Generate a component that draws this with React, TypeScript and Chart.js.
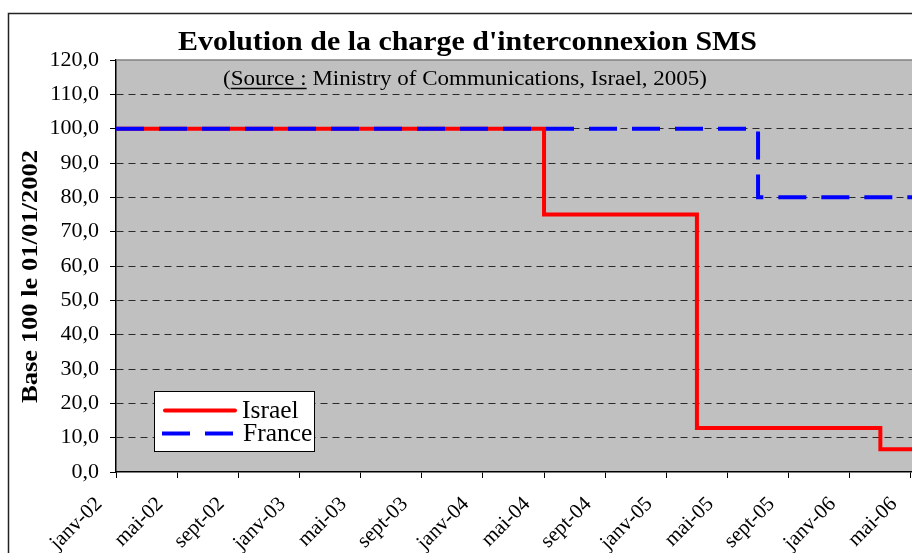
import React, { useEffect, useRef } from "react";
import { Chart, registerables } from "chart.js";

Chart.register(...registerables);

// ---- Data (months counted from janv-02 = 0) ----
const tickMonths = [0, 4, 8, 12, 16, 20, 24, 28, 32, 36, 40, 44, 48, 52];
const tickLabels = [
  "janv-02", "mai-02", "sept-02", "janv-03", "mai-03", "sept-03", "janv-04",
  "mai-04", "sept-04", "janv-05", "mai-05", "sept-05", "janv-06", "mai-06",
];
const israelMonths = [0, 28, 38, 50, 54];
const israelValues = [100, 75, 12.8, 6.6, 6.6];
const franceMonths = [0, 42, 54];
const franceValues = [100, 80, 80];
const yMin = 0;
const yMax = 120;
const yStep = 10;
const xMaxMonth = 52.07;

const titleText = "Evolution de la charge d'interconnexion SMS";
const sourceOpen = "(";
const sourceWord = "Source :";
const sourceRest = " Ministry of Communications, Israel, 2005)";
const yTitleText = "Base 100 le 01/01/2002";
const seriesNames = ["Israel", "France"];

const SERIF = "'Liberation Serif', 'Times New Roman', serif";

function fitText(
  ctx: CanvasRenderingContext2D,
  text: string,
  font: string,
  left: number,
  baseline: number,
  width: number
) {
  ctx.save();
  ctx.font = font;
  const w = ctx.measureText(text).width;
  ctx.translate(left, baseline);
  ctx.scale(width / w, 1);
  ctx.textAlign = "left";
  ctx.textBaseline = "alphabetic";
  ctx.fillStyle = "#000";
  ctx.fillText(text, 0, 0);
  ctx.restore();
}

const decorPlugin = {
  id: "decor",
  beforeDraw(chart: any) {
    const { ctx, chartArea: a } = chart;
    ctx.save();
    ctx.fillStyle = "#ffffff";
    ctx.fillRect(0, 0, chart.width, chart.height);
    // outer frame
    ctx.strokeStyle = "#222";
    ctx.lineWidth = 1.5;
    ctx.strokeRect(8.5, 13.5, 2000, 2000);
    // plot background
    ctx.fillStyle = "#C0C0C0";
    ctx.fillRect(a.left, a.top, a.right - a.left, a.bottom - a.top);
    ctx.restore();
  },
  beforeDatasetsDraw(chart: any) {
    const { ctx, chartArea: a } = chart;
    ctx.save();
    ctx.strokeStyle = "#808080";
    ctx.lineWidth = 1.5;
    ctx.beginPath();
    ctx.moveTo(a.left, a.top);
    ctx.lineTo(a.right, a.top);
    ctx.stroke();
    ctx.restore();
  },
  afterDraw(chart: any) {
    const { ctx } = chart;
    const xs = chart.scales.x;

    // Title
    fitText(ctx, titleText, `bold 28px ${SERIF}`, 178, 50, 579);

    // Subtitle with underlined "Source :"
    {
      const font = `20px ${SERIF}`;
      const full = sourceOpen + sourceWord + sourceRest;
      ctx.save();
      ctx.font = font;
      const wFull = ctx.measureText(full).width;
      const wOpen = ctx.measureText(sourceOpen).width;
      const wWord = ctx.measureText(sourceOpen + sourceWord).width;
      const s = 484 / wFull;
      ctx.restore();
      fitText(ctx, full, font, 223, 85, 484);
      ctx.save();
      ctx.strokeStyle = "#000";
      ctx.lineWidth = 1.5;
      ctx.beginPath();
      ctx.moveTo(223 + wOpen * s, 88.5);
      ctx.lineTo(223 + wWord * s, 88.5);
      ctx.stroke();
      ctx.restore();
    }

    // Y axis title
    {
      ctx.save();
      const font = `bold 23px ${SERIF}`;
      ctx.font = font;
      const w = ctx.measureText(yTitleText).width;
      ctx.translate(37, 276.5);
      ctx.rotate(-Math.PI / 2);
      ctx.scale(253 / w, 1);
      ctx.textAlign = "center";
      ctx.textBaseline = "alphabetic";
      ctx.fillStyle = "#000";
      ctx.fillText(yTitleText, 0, 0);
      ctx.restore();
    }

    // X tick labels (rotated 45°)
    ctx.save();
    ctx.font = `21px ${SERIF}`;
    ctx.fillStyle = "#000";
    ctx.textAlign = "right";
    ctx.textBaseline = "middle";
    tickMonths.forEach((m, i) => {
      const px = xs.getPixelForValue(m);
      ctx.save();
      ctx.translate(px - 17, 501);
      ctx.rotate(-Math.PI / 4);
      ctx.fillText(tickLabels[i], 0, 0);
      ctx.restore();
    });
    ctx.restore();

    // Legend
    ctx.save();
    ctx.fillStyle = "#fff";
    ctx.fillRect(154.5, 391.5, 160, 60);
    ctx.strokeStyle = "#000";
    ctx.lineWidth = 1;
    ctx.strokeRect(154.5, 391.5, 160, 60);
    // Israel
    ctx.strokeStyle = "#FF0000";
    ctx.lineWidth = 4;
    ctx.lineCap = "round";
    ctx.beginPath();
    ctx.moveTo(165, 410.5);
    ctx.lineTo(235, 410.5);
    ctx.stroke();
    // France
    ctx.strokeStyle = "#0000FF";
    ctx.lineCap = "butt";
    ctx.beginPath();
    ctx.moveTo(162, 433.5);
    ctx.lineTo(190, 433.5);
    ctx.moveTo(205, 433.5);
    ctx.lineTo(233, 433.5);
    ctx.stroke();
    ctx.fillStyle = "#000";
    ctx.font = `25.5px ${SERIF}`;
    ctx.textAlign = "left";
    ctx.textBaseline = "alphabetic";
    ctx.fillText(seriesNames[0], 242, 418);
    ctx.fillText(seriesNames[1], 243, 441);
    ctx.restore();
  },
};

export default function App() {
  const ref = useRef<HTMLCanvasElement>(null);

  useEffect(() => {
    const canvas = ref.current;
    if (!canvas) return;
    const chart = new Chart(canvas, {
      type: "line",
      data: {
        datasets: [
          {
            label: seriesNames[0],
            data: israelMonths.map((m, i) => ({ x: m, y: israelValues[i] })),
            borderColor: "#FF0000",
            backgroundColor: "#FF0000",
            borderWidth: 4,
            stepped: "before",
            pointRadius: 0,
            borderJoinStyle: "miter",
            borderCapStyle: "butt",
            order: 1,
          },
          {
            label: seriesNames[1],
            data: franceMonths.map((m, i) => ({ x: m, y: franceValues[i] })),
            borderColor: "#0000FF",
            backgroundColor: "#0000FF",
            borderWidth: 4,
            borderDash: [28, 15],
            stepped: "before",
            pointRadius: 0,
            borderJoinStyle: "miter",
            borderCapStyle: "butt",
            order: 0,
          },
        ],
      },
      options: {
        responsive: false,
        animation: false,
        devicePixelRatio: 1,
        layout: { padding: { top: 60, left: 0, right: 0, bottom: 0 } },
        plugins: {
          legend: { display: false },
          tooltip: { enabled: false },
          title: { display: false },
        },
        scales: {
          x: {
            type: "linear",
            min: 0,
            max: xMaxMonth,
            afterBuildTicks: (s: any) => {
              s.ticks = tickMonths.map((value) => ({ value }));
            },
            afterFit: (s: any) => {
              s.height = 81;
            },
            ticks: { display: false },
            grid: {
              drawOnChartArea: false,
              drawTicks: true,
              tickLength: 6,
              tickColor: "#000",
              tickWidth: 1,
              tickBorderDash: [],
            },
            border: { display: true, color: "#000", width: 1.5 },
          },
          y: {
            min: yMin,
            max: yMax,
            afterFit: (s: any) => {
              s.width = 116;
            },
            ticks: {
              stepSize: yStep,
              padding: 11,
              color: "#000",
              font: { family: SERIF, size: 22 },
              callback: (v: any) => Number(v).toFixed(1).replace(".", ","),
            },
            grid: {
              color: (c: any) =>
                c.tick && (c.tick.value === yMin || c.tick.value === yMax)
                  ? "rgba(0,0,0,0)"
                  : "#2a2a2a",
              lineWidth: 1,
              drawTicks: true,
              tickLength: 6,
              tickColor: "#000",
              tickWidth: 1,
              tickBorderDash: [],
            },
            border: { display: true, color: "#000", width: 1.5, dash: [7, 5] },
          },
        },
      },
      plugins: [decorPlugin],
    } as any);
    return () => chart.destroy();
  }, []);

  return (
    <div
      style={{
        position: "fixed",
        left: 0,
        top: 0,
        width: 912,
        height: 553,
        overflow: "hidden",
        background: "#fff",
      }}
    >
      <canvas
        ref={ref}
        width={912}
        height={553}
        style={{ display: "block", width: 912, height: 553 }}
      />
    </div>
  );
}
